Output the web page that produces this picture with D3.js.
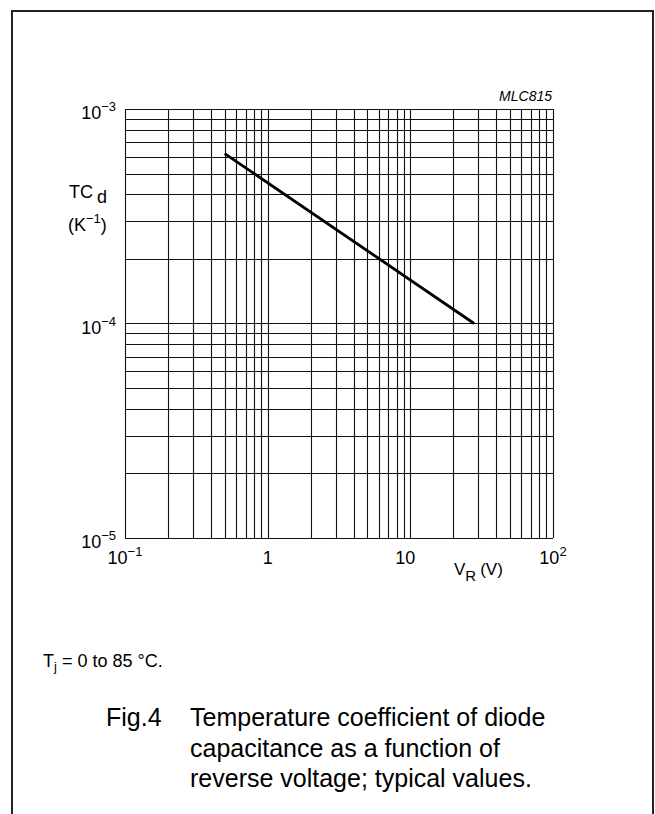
<!DOCTYPE html>
<html>
<head>
<meta charset="utf-8">
<script src="https://cdn.jsdelivr.net/npm/d3@7"></script>
<style>
  html, body { margin: 0; padding: 0; background: #fff; }
  svg { display: block; font-family: "Liberation Sans", Arial, sans-serif; }
</style>
</head>
<body>
<svg id="chart" width="655" height="814"></svg>
<script>
// ---- data ----
const vrValues = [0.5, 28];          // reverse voltage (V)
const tcValues = [6.2e-4, 1.0e-4];   // temperature coefficient (1/K)
const xTickExps = [-1, 0, 1, 2];     // 10^-1 .. 10^2
const yTickExps = [-3, -4, -5];      // 10^-3 .. 10^-5
const xDomain = [0.1, 100];
const yDomain = [1e-5, 1e-3];

const svg = d3.select("#chart");
const W = 655, H = 814;
const plot = {left: 125, right: 553, top: 109, bottom: 538};

// frame (open at bottom)
svg.append("path")
  .attr("d", `M12,${H+2} V11 H653 V${H+2}`)
  .attr("fill", "none").attr("stroke", "#222").attr("stroke-width", 2);

const x = d3.scaleLog().domain(xDomain).range([plot.left, plot.right]);
const y = d3.scaleLog().domain(yDomain).range([plot.bottom, plot.top]);

// grid lines from log scale ticks (1..9 per decade)
const xGrid = x.ticks();
const yGrid = y.ticks();
const g = svg.append("g");
g.selectAll("line.vx").data(xGrid).enter().append("line")
  .attr("x1", d => Math.round(x(d)) + 0.5).attr("x2", d => Math.round(x(d)) + 0.5)
  .attr("y1", plot.top).attr("y2", plot.bottom)
  .attr("stroke", "#111").attr("stroke-width", 1.1);
g.selectAll("line.hy").data(yGrid).enter().append("line")
  .attr("y1", d => Math.round(y(d)) + 0.5).attr("y2", d => Math.round(y(d)) + 0.5)
  .attr("x1", plot.left).attr("x2", plot.right)
  .attr("stroke", "#111").attr("stroke-width", 1.1);

// curve
const line = d3.line().x(d => x(d[0])).y(d => y(d[1]));
svg.append("path")
  .datum(vrValues.map((v, i) => [v, tcValues[i]]))
  .attr("d", line)
  .attr("fill", "none").attr("stroke", "#000").attr("stroke-width", 2.8);

// tick labels
function powLabel(sel, base, exp, anchor) {
  const t = sel.append("text").attr("font-size", 18).attr("fill", "#000").attr("text-anchor", anchor);
  t.append("tspan").text(base);
  if (exp !== null) {
    t.append("tspan").attr("font-size", 13).attr("dy", -8).text(exp);
  }
  return t;
}
yTickExps.forEach(e => {
  const yy = y(Math.pow(10, e));
  powLabel(svg, "10", "\u2212" + Math.abs(e), "end")
    .attr("x", 116).attr("y", yy + 10);
});
xTickExps.forEach(e => {
  const xx = x(Math.pow(10, e));
  let t, dx = 0;
  if (e === 0) { t = powLabel(svg, "1", null, "middle"); dx = 0; }
  else if (e === 1) { t = powLabel(svg, "10", null, "middle"); dx = -5; }
  else if (e < 0) t = powLabel(svg, "10", "\u2212" + Math.abs(e), "middle");
  else t = powLabel(svg, "10", String(e), "middle");
  t.attr("x", xx + dx).attr("y", 564);
});

// axis titles
const yt = svg.append("text").attr("x", 69).attr("y", 198).attr("font-size", 18);
yt.append("tspan").text("TC");
yt.append("tspan").attr("dx", 4).attr("dy", 5).text("d");
const yu = svg.append("text").attr("x", 68).attr("y", 231).attr("font-size", 18);
yu.append("tspan").text("(K");
yu.append("tspan").attr("font-size", 13).attr("dy", -8).text("\u22121");
yu.append("tspan").attr("dy", 8).text(")");

const xt = svg.append("text").attr("x", 454).attr("y", 575).attr("font-size", 17);
xt.append("tspan").text("V");
xt.append("tspan").attr("font-size", 15).attr("dy", 6).text("R");
xt.append("tspan").attr("dx", 4).attr("dy", -6).text("(V)");

svg.append("text").attr("x", 552).attr("y", 101).attr("font-size", 14)
  .attr("font-style", "italic").attr("text-anchor", "end").text("MLC815");

// notes / caption
const nt = svg.append("text").attr("x", 43).attr("y", 667).attr("font-size", 18);
nt.append("tspan").text("T");
nt.append("tspan").attr("font-size", 13).attr("dy", 4).text("j");
nt.append("tspan").attr("dy", -4).text(" = 0 to 85 \u00B0C.");

svg.append("text").attr("x", 106).attr("y", 726).attr("font-size", 25).text("Fig.4");
const capLines = ["Temperature coefficient of diode",
                  "capacitance as a function of",
                  "reverse voltage; typical values."];
capLines.forEach((s, i) => {
  svg.append("text").attr("x", 190).attr("y", 726 + i * 30.5).attr("font-size", 25).text(s);
});
</script>
</body>
</html>
